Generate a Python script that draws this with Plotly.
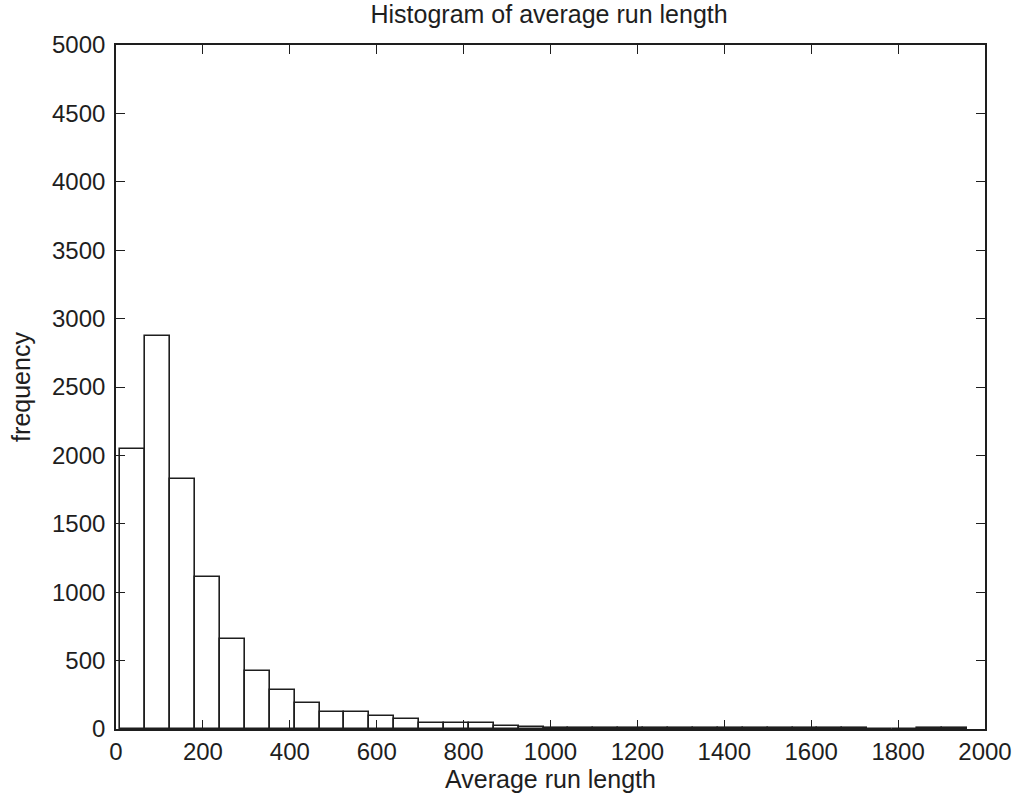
import plotly.graph_objects as go

bin_centers = [38.65, 95.95, 153.25, 210.55, 267.85, 325.15, 382.45, 439.75, 497.05, 554.35,
               611.65, 668.95, 726.25, 783.55, 840.85, 898.15, 955.45, 1012.75, 1070.05, 1127.35,
               1184.65, 1241.95, 1299.25, 1356.55, 1413.85, 1471.15, 1528.45, 1585.75, 1643.05, 1700.35,
               1757.65, 1814.95, 1872.25, 1929.55]
bin_width = 57.3
counts = [2045, 2870, 1830, 1110, 660, 422, 288, 190, 127, 127,
          98, 72, 42, 42, 42, 22, 12, 10, 9, 8,
          8, 7, 7, 6, 6, 6, 5, 5, 5, 5,
          0, 0, 5, 5]

x_ticks = [0, 200, 400, 600, 800, 1000, 1200, 1400, 1600, 1800, 2000]
y_ticks = [0, 500, 1000, 1500, 2000, 2500, 3000, 3500, 4000, 4500, 5000]

FONT = "Liberation Sans, Arial, DejaVu Sans, sans-serif"
INK = "#1e1e1e"

fig = go.Figure(go.Bar(
    x=bin_centers, y=counts, width=bin_width,
    marker=dict(color="white", line=dict(color=INK, width=1.6)),
))

axis_common = dict(
    showline=True, linecolor=INK, linewidth=1.6, mirror="ticks",
    ticks="inside", ticklen=9, tickwidth=1.4, tickcolor=INK,
    showgrid=False, zeroline=False, automargin=False,
    tickfont=dict(family=FONT, size=24, color=INK),
)

fig.update_layout(
    template="none",
    width=1014, height=805,
    margin=dict(l=116, r=29, t=45, b=76, autoexpand=False),
    paper_bgcolor="white", plot_bgcolor="white",
    showlegend=False, bargap=0,
    font=dict(family=FONT, size=25, color=INK),
    title=dict(text="Histogram of average run length", x=0.5415, xanchor="center",
               y=1 - 14 / 805, yanchor="middle", yref="container",
               font=dict(family=FONT, size=25, color=INK)),
    xaxis=dict(range=[0, 2000], tickvals=x_ticks, ticktext=[str(v) for v in x_ticks],
               ticklabelstandoff=0,
               title=dict(text="Average run length", standoff=4,
                          font=dict(family=FONT, size=25, color=INK)),
               **axis_common),
    yaxis=dict(range=[0, 5000], tickvals=y_ticks, ticktext=[str(v) for v in y_ticks],
               ticklabelstandoff=4,
               title=dict(text="frequency", standoff=14,
                          font=dict(family=FONT, size=25, color=INK)),
               **axis_common),
)

fig.write_html(
    "out.html",
    config={"displayModeBar": False},
    post_script="document.body.style.margin='0';document.body.style.padding='0';",
)
